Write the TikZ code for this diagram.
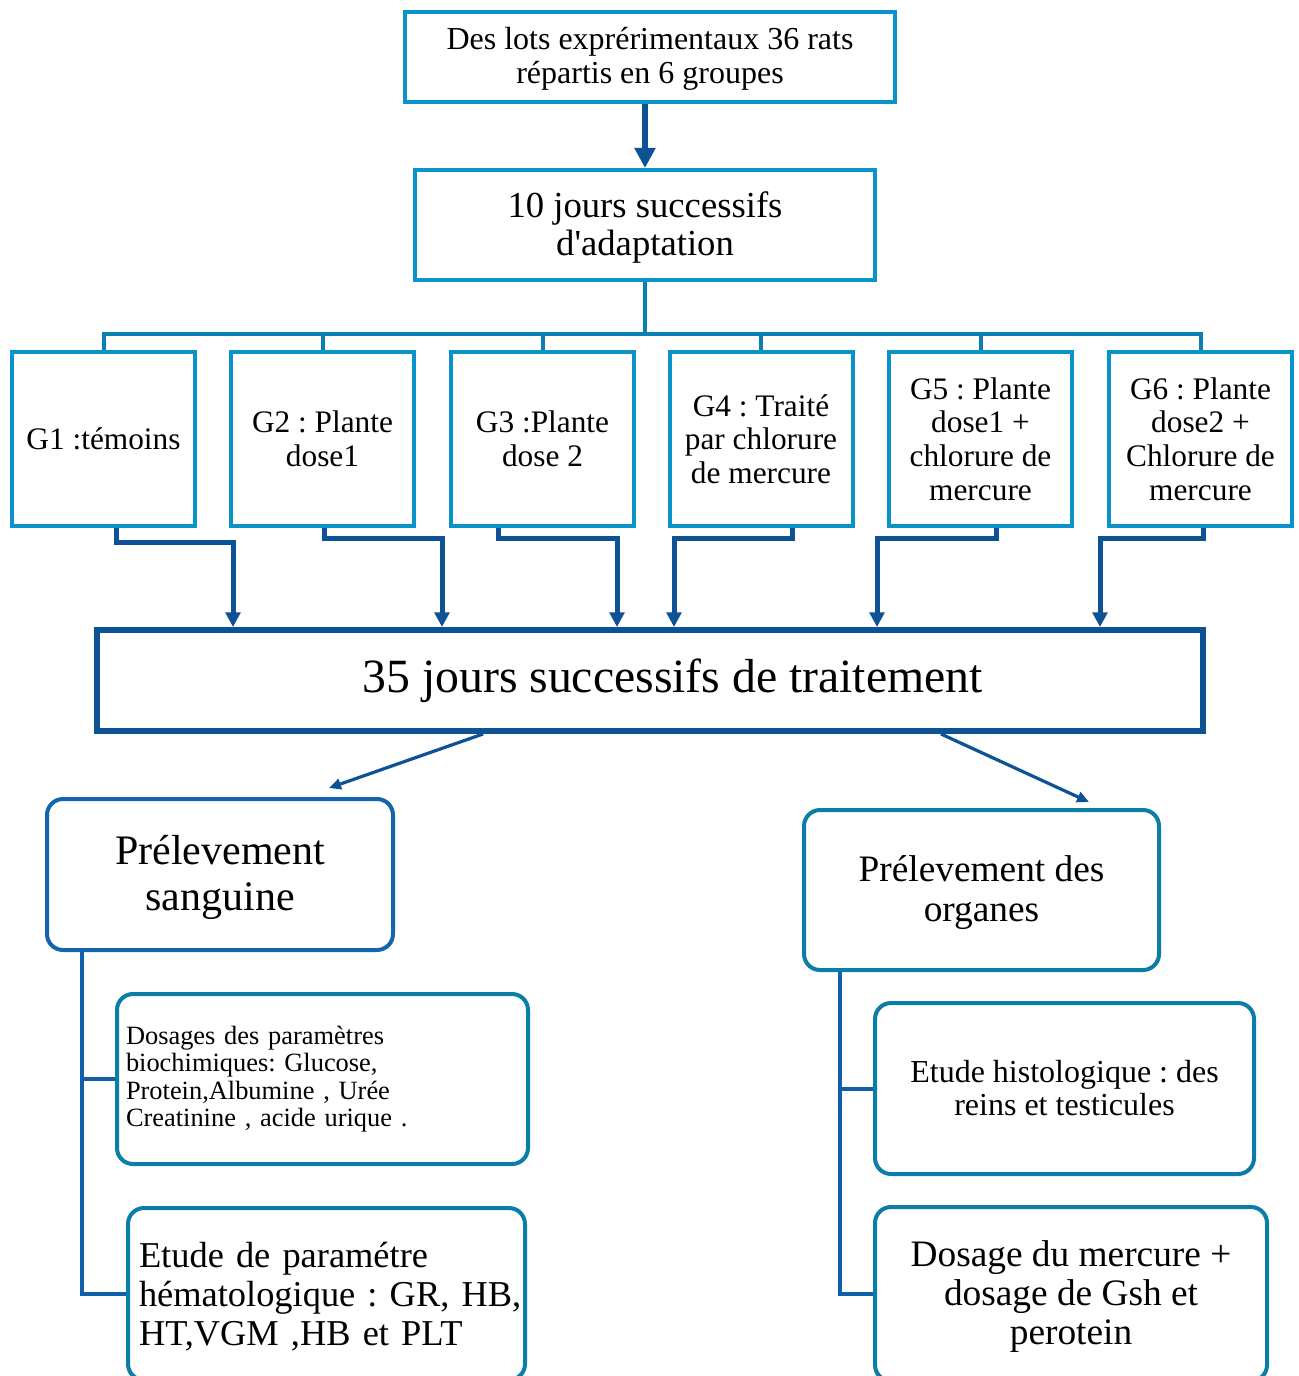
\documentclass[tikz,border=0pt]{standalone}
\usepackage{fontspec}
\setmainfont{Liberation Serif}[Ligatures=TeXOff]
\usetikzlibrary{arrows.meta,calc}
\definecolor{cyanb}{HTML}{0A93C8}
\definecolor{busc}{HTML}{0A80B0}
\definecolor{darkb}{HTML}{0C5294}
\definecolor{midb}{HTML}{1564AE}
\definecolor{tealb}{HTML}{0A7DA8}
\definecolor{treeb}{HTML}{105FA8}
\frenchspacing
\begin{document}
\begin{tikzpicture}[x=0.75pt,y=-0.75pt,
  sqbox/.style={draw=cyanb, line width=3pt, fill=white, align=center, inner sep=0pt},
  gbox/.style={sqbox, minimum width=137.25pt, minimum height=130.5pt, font=\fontsize{23.5}{25.3}\selectfont},
  rbox/.style={draw=tealb, line width=3pt, fill=white, rounded corners=12pt, inner sep=0pt},
  busline/.style={draw=busc, line width=3pt},
  garrow/.style={draw=darkb, line width=3.75pt, -{Triangle[length=11pt,width=11pt]}},
  diagarrow/.style={draw=darkb, line width=2.4pt, -{Triangle[length=9pt,width=8pt]}},
  treeline/.style={draw=treeb, line width=3pt}
]
\clip (0,0) rectangle (1298,1376);
\fill[white] (0,0) rectangle (1298,1376);

% top boxes
\node[sqbox, minimum width=367.5pt, minimum height=67.5pt, font=\fontsize{24}{25.5}\selectfont] (top) at (650,57) {\rule{0pt}{20pt}Des lots exprérimentaux 36 rats\\répartis en 6 groupes};
\node[sqbox, minimum width=345pt, minimum height=82.5pt, font=\fontsize{27.5}{28.5}\selectfont] (adapt) at (645,225) {\rule{0pt}{23pt}10 jours successifs\\d'adaptation};

\draw[draw=darkb, line width=4.5pt, -{Triangle[length=15pt,width=15pt]}] (adapt.north |- top.south) -- (adapt.north);

% groups
\node[gbox] (g1) at (103.5,439) {G1 :témoins};
\node[gbox] (g2) at (322.5,439) {G2 : Plante\\dose1};
\node[gbox] (g3) at (542.5,439) {G3 :Plante\\dose 2};
\node[gbox] (g4) at (761,439) {G4 : Traité\\par chlorure\\de mercure};
\node[gbox] (g5) at (980.5,439) {G5 : Plante\\dose1 +\\chlorure de\\mercure};
\node[gbox] (g6) at (1200.5,439) {G6 : Plante\\dose2 +\\Chlorure de\\mercure};

\coordinate (bus) at (645,334);
\foreach \g in {g1,g2,g3,g4,g5,g6} {
  \draw[busline] (adapt.south) -- (bus) -| (\g.north);
}

% treatment box
\node[draw=darkb, line width=4.5pt, fill=white, minimum width=829.5pt, minimum height=75.75pt, inner sep=0pt, font=\fontsize{35.8}{38}\selectfont] (treat) at (650,680.5) {\hspace*{34pt}35 jours successifs de traitement};

\draw[garrow] (g1.south -| 116,0) -- (116,542) -- (233,542) -- (treat.north -| 233,0);
\draw[garrow] (g2.south -| 324,0) -- (324,538) -- (442,538) -- (treat.north -| 442,0);
\draw[garrow] (g3.south -| 498,0) -- (498,538) -- (617,538) -- (treat.north -| 617,0);
\draw[garrow] (g4.south -| 792,0) -- (792,538) -- (674,538) -- (treat.north -| 674,0);
\draw[garrow] (g5.south -| 996,0) -- (996,538) -- (877,538) -- (treat.north -| 877,0);
\draw[garrow] (g6.south -| 1203,0) -- (1203,538) -- (1100,538) -- (treat.north -| 1100,0);

% second level
\node[rbox, draw=midb, minimum width=259.5pt, minimum height=113.25pt, align=center, font=\fontsize{31.5}{34.5}\selectfont] (ps) at (220,874.5) {\rule{0pt}{27pt}Prélevement\\sanguine};
\node[rbox, minimum width=266.25pt, minimum height=120pt, align=center, font=\fontsize{28}{30}\selectfont] (po) at (981.5,890) {\rule{0pt}{24pt}Prélevement des\\organes};

\draw[diagarrow] (treat.south -| 483,0) -- ($(ps.north -| 329,0)+(0,-9)$);
\draw[diagarrow] (treat.south -| 941,0) -- ($(po.north -| 1089,0)+(0,-6)$);

% leaves
\node[rbox, minimum height=127.5pt, inner xsep=6.75pt, text width=294.75pt, align=left, font=\fontsize{19.8}{20.6}\selectfont] (dos) at (322.5,1079) {Dosages des paramètres\\biochimiques: Glucose,\\Protein,Albumine , Urée\\Creatinine , acide urique .};
\node[rbox, minimum height=129pt, inner xsep=8.25pt, text width=281.25pt, align=left, font=\fontsize{27.3}{29.25}\selectfont] (hem) at (326.5,1294) {\rule{0pt}{23pt}Etude de paramétre\\hématologique~:~GR,~HB,\\HT,VGM ,HB et PLT};
\node[rbox, minimum width=284.25pt, minimum height=128.25pt, align=center, font=\fontsize{24}{24.75}\selectfont] (hist) at (1064.5,1088.5) {Etude histologique : des\\reins et testicules};
\node[rbox, minimum width=294pt, minimum height=130.5pt, align=center, font=\fontsize{28}{29.25}\selectfont] (hg) at (1071,1294) {\rule{0pt}{23pt}Dosage du mercure +\\dosage de Gsh et\\perotein};

\draw[treeline] (ps.south -| 82,0) |- (dos.west);
\draw[treeline] (ps.south -| 82,0) |- (hem.west);
\draw[treeline] (po.south -| 840,0) |- (hist.west);
\draw[treeline] (po.south -| 840,0) |- (hg.west);
\end{tikzpicture}
\end{document}
